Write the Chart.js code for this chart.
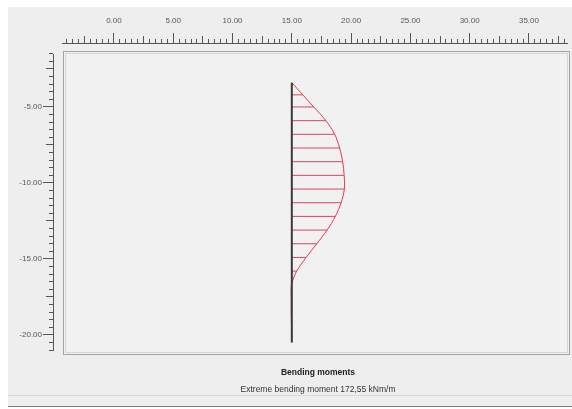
<!DOCTYPE html>
<html>
<head>
<meta charset="utf-8">
<script src="https://cdn.jsdelivr.net/npm/chart.js@4.4.1/dist/chart.umd.min.js"></script>
<style>
  html, body { margin: 0; padding: 0; background: #fff; }
  #wrap { position: relative; width: 572px; height: 409px; }
</style>
</head>
<body>
<div id="wrap"><canvas id="momentChart"></canvas></div>
<script>
// kedalaman titik tiang (m) dan momen lentur (kNm/m)
const depths  = [-3.4, -4.2, -5.0, -5.9, -6.8, -7.7, -8.6, -9.5, -10.4, -11.3, -12.2, -13.1, -14.0, -14.9, -15.8, -16.7, -17.6, -18.5, -19.4, -20.5];
const moments = [0, 36, 72, 112, 141, 157, 167, 172, 172.5, 162, 143, 116, 82, 47, 16, -1, -2, -2, -1, 0];
const pileX = 15;

// label sumbu (penggaris)
const xMajorTicks = [0, 5, 10, 15, 20, 25, 30, 35];
const yMajorTicks = [-5, -10, -15, -20];

const chartTitle = 'Bending moments';
const chartNote = 'Extreme bending moment 172,55 kNm/m';

// lebar diagram momen: unit sumbu per kNm/m
const momentScale = 4.43 / 172.55;

const tickFont = { family: '"Liberation Sans", Arial, sans-serif', size: 8 };
const tickColor = '#555';

// tick penggaris tiap 0.5
function rulerTicks(from, to) {
    const out = [];
    for (let k = Math.round(from * 2); k <= Math.round(to * 2); k++) out.push({ value: k / 2 });
    return out;
}

// panjang tick: besar / sedang / kecil (pakai dash)
function tickDash(ctx) {
    if (!ctx.tick) return [];
    const k = Math.round(ctx.tick.value * 2);
    if (k % 10 === 0) return [];
    if (k % 5 === 0) return [0, 3, 7, 100];
    return [0, 6, 4, 100];
}

const curvePoints = depths.map((d, i) => ({ x: pileX + moments[i] * momentScale, y: d }));
const hatchPoints = [];
depths.forEach((d, i) => {
    hatchPoints.push({ x: pileX, y: d });
    hatchPoints.push({ x: pileX + moments[i] * momentScale, y: d });
    hatchPoints.push({ x: pileX, y: null });
});
const pilePoints = [
    { x: pileX, y: depths[0] },
    { x: pileX, y: depths[depths.length - 1] }
];

const backdrop = {
    id: 'backdrop',
    beforeDraw(chart) {
        const c = chart.ctx;
        const w = chart.width, h = chart.height;
        c.save();
        c.fillStyle = '#ffffff';
        c.fillRect(0, 0, w, h);
        c.fillStyle = '#eeeeee';
        c.fillRect(8, 7, w - 8, h - 10);
        // bingkai plot
        c.fillStyle = '#f1f1f1';
        c.fillRect(64, 52, 505, 302);
        c.lineWidth = 1;
        c.strokeStyle = '#a4a4a4';
        c.strokeRect(63.5, 51.5, 506, 303);
        c.strokeStyle = '#d6d6d6';
        c.strokeRect(65.5, 53.5, 502, 299);
        // garis bawah
        c.strokeStyle = '#dadada';
        c.beginPath(); c.moveTo(8, 395.5); c.lineTo(w, 395.5); c.stroke();
        c.strokeStyle = '#7a7a7a';
        c.beginPath(); c.moveTo(8, 406.5); c.lineTo(w, 406.5); c.stroke();
        c.restore();
    },
    afterDraw(chart) {
        const c = chart.ctx;
        c.save();
        // garis dasar penggaris
        c.strokeStyle = tickColor;
        c.lineWidth = 1;
        c.beginPath();
        c.moveTo(62, 43.5); c.lineTo(568, 43.5);
        c.moveTo(53.5, 54); c.lineTo(53.5, 351);
        c.stroke();
        // teks keterangan
        c.textAlign = 'center';
        c.textBaseline = 'middle';
        c.fillStyle = '#222';
        c.font = 'bold 8.5px "Liberation Sans", Arial, sans-serif';
        c.fillText(chartTitle, 318, 373);
        c.fillStyle = '#333';
        c.font = '8.5px "Liberation Sans", Arial, sans-serif';
        c.fillText(chartNote, 318, 390);
        c.restore();
    }
};

const ctx = document.getElementById('momentChart');
new Chart(ctx, {
    type: 'line',
    data: {
        datasets: [
            {
                label: 'Pile',
                data: pilePoints,
                borderColor: '#3a3a3a',
                borderWidth: 2,
                pointRadius: 0,
                order: 0
            },
            {
                label: 'Bending moment',
                data: curvePoints,
                borderColor: '#e23a48',
                borderWidth: 1,
                pointRadius: 0,
                tension: 0.3,
                order: 1
            },
            {
                label: 'Hatch',
                data: hatchPoints,
                borderColor: 'rgba(214, 40, 70, 0.85)',
                borderWidth: 1,
                pointRadius: 0,
                spanGaps: false,
                order: 2
            }
        ]
    },
    options: {
        responsive: true,
        maintainAspectRatio: false,
        animation: false,
        layout: { padding: { left: 0, top: 0, right: 2, bottom: 54 } },
        scales: {
            x: {
                type: 'linear',
                position: 'top',
                min: -5.14,
                max: 38.46,
                afterBuildTicks: s => { s.ticks = rulerTicks(-4, 38); },
                afterFit: s => { s.height = 43; },
                border: { display: false },
                grid: {
                    drawOnChartArea: false,
                    tickLength: 10,
                    tickColor: tickColor,
                    tickBorderDash: tickDash
                },
                ticks: {
                    autoSkip: false,
                    maxRotation: 0,
                    minRotation: 0,
                    padding: 7,
                    font: tickFont,
                    color: tickColor,
                    callback: v => xMajorTicks.includes(v) ? v.toFixed(2) : ''
                }
            },
            y: {
                type: 'linear',
                position: 'left',
                min: -21.32,
                max: -0.79,
                afterBuildTicks: s => { s.ticks = rulerTicks(-21, -1.5); },
                afterFit: s => { s.width = 53; },
                border: { display: false },
                grid: {
                    drawOnChartArea: false,
                    tickLength: 10,
                    tickColor: tickColor,
                    tickBorderDash: tickDash
                },
                ticks: {
                    autoSkip: false,
                    padding: 1,
                    font: tickFont,
                    color: tickColor,
                    callback: v => yMajorTicks.includes(v) ? v.toFixed(2) : ''
                }
            }
        },
        plugins: {
            legend: { display: false },
            tooltip: { enabled: false }
        }
    },
    plugins: [backdrop]
});
</script>
</body>
</html>
